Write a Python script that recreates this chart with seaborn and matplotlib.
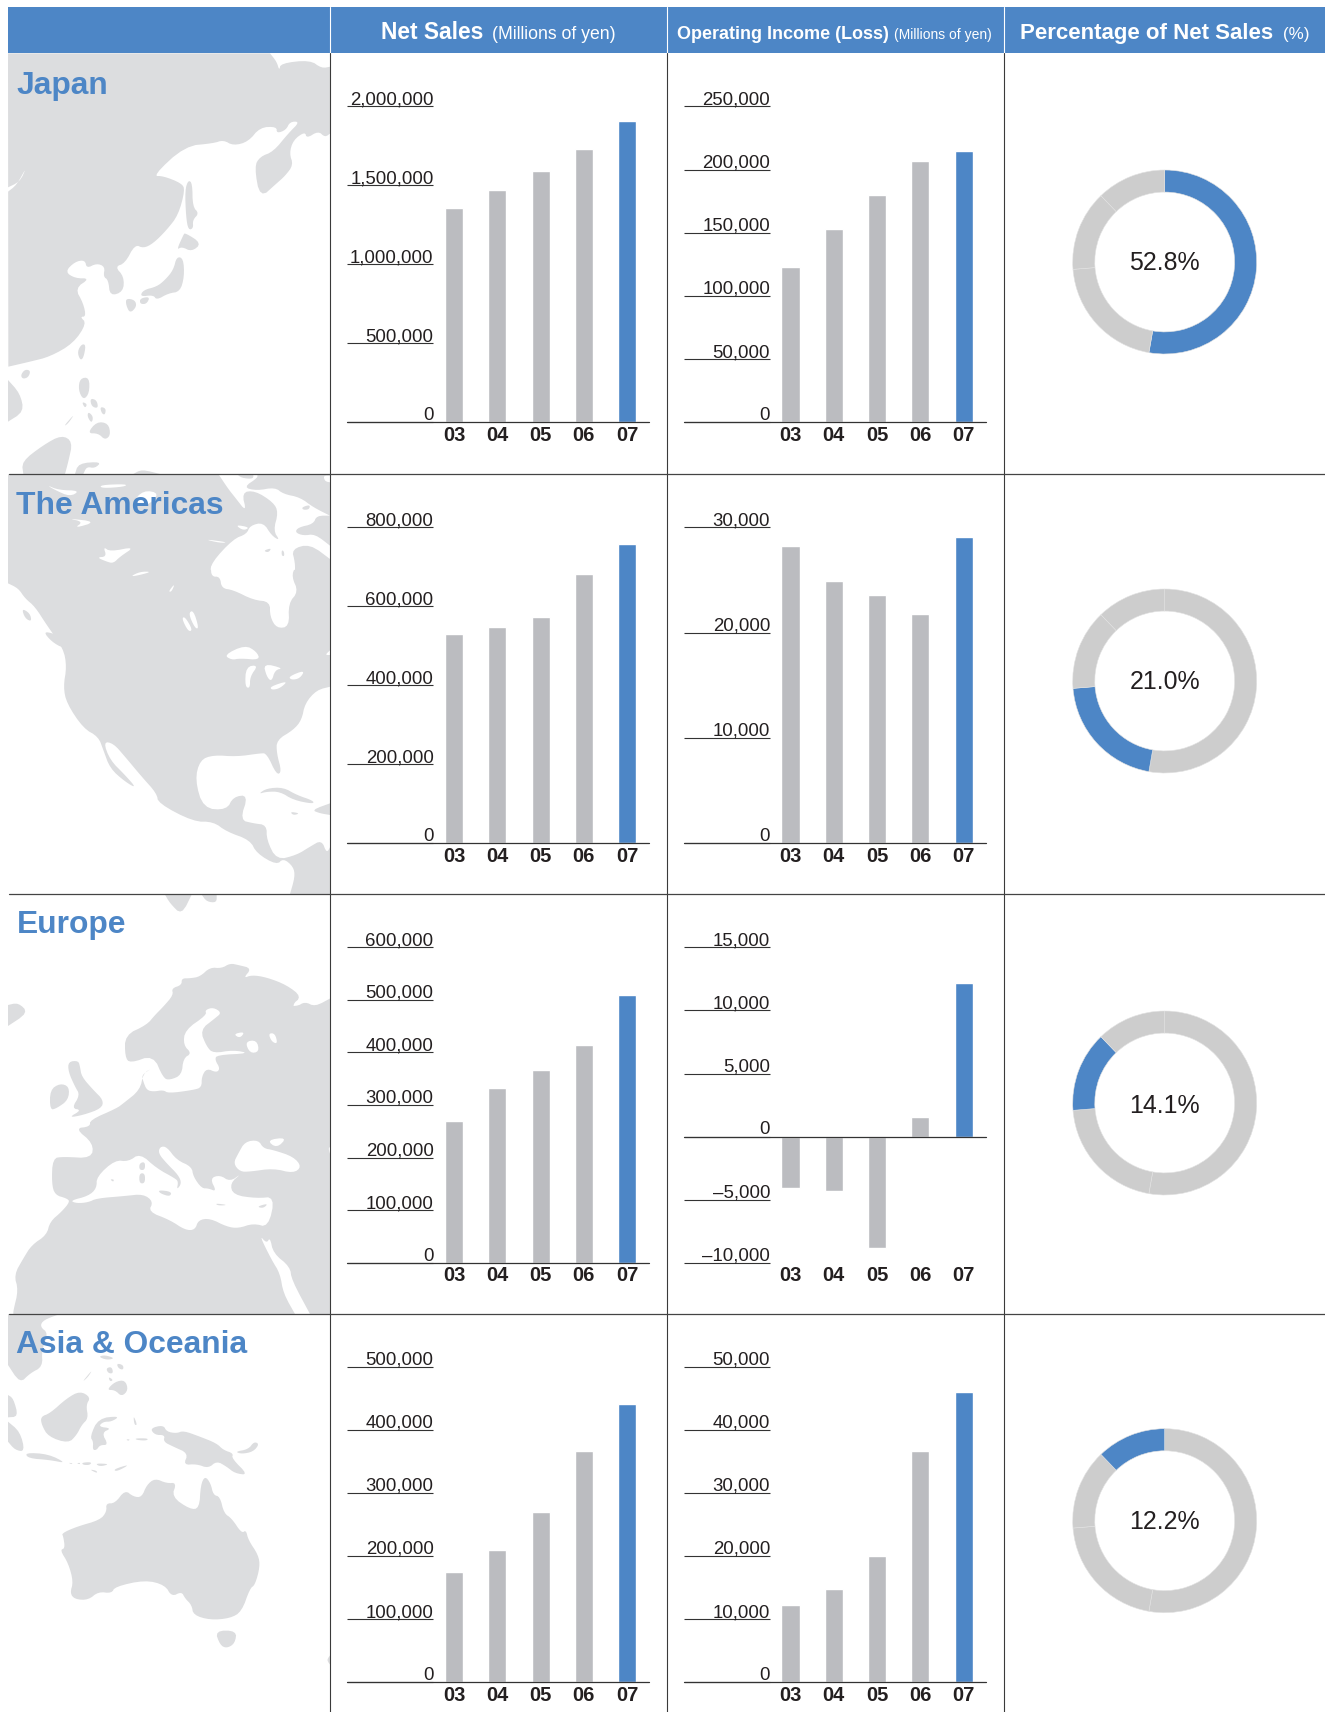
import matplotlib
matplotlib.use("Agg")
import matplotlib.pyplot as plt
from matplotlib.transforms import ScaledTranslation
import seaborn as sns

W, H = 1325, 1712

BLUE = "#4D86C6"
BAR_GREY = "#BBBCC0"
RING_GREY = "#CDCDCD"
MAP_GREY = "#DCDDDF"
INK = "#231F20"

regions = ["Japan", "The Americas", "Europe", "Asia & Oceania"]
years = ["03", "04", "05", "06", "07"]

japan_sales = [1354000, 1468000, 1589000, 1729000, 1907000]
americas_sales = [531000, 549000, 572000, 681000, 757000]
europe_sales = [270000, 333000, 367000, 415000, 509000]
asia_sales = [175000, 210000, 270000, 366000, 440000]

japan_income = [123000, 153000, 180000, 207000, 215000]
americas_income = [28200, 24900, 23600, 21800, 29100]
europe_income = [-4040, -4280, -8800, 1560, 12180]
asia_income = [12300, 14800, 20050, 36700, 45900]

japan_sales_ticks = [0, 500000, 1000000, 1500000, 2000000]
americas_sales_ticks = [0, 200000, 400000, 600000, 800000]
europe_sales_ticks = [0, 100000, 200000, 300000, 400000, 500000, 600000]
asia_sales_ticks = [0, 100000, 200000, 300000, 400000, 500000]

japan_income_ticks = [0, 50000, 100000, 150000, 200000, 250000]
americas_income_ticks = [0, 10000, 20000, 30000]
europe_income_ticks = [-10000, -5000, 0, 5000, 10000, 15000]
asia_income_ticks = [0, 10000, 20000, 30000, 40000, 50000]

shares = [52.8, 21.0, 14.1, 12.2]

# map outlines, traced in zoomed pixels (3x) from the origin of each panel
japan_origin = (0, 50)
japan_land = [
    [(24, 10), (810, 10), (830, 35), (838, 62), (842, 40), (930, 30), (965, 55), (991, 50), (991, 250),
     (975, 262), (955, 243), (920, 265), (915, 245), (880, 270), (868, 310), (880, 345), (855, 378),
     (830, 400), (780, 445), (763, 350), (780, 320), (820, 305), (865, 250), (900, 215), (870, 215),
     (858, 240), (830, 250), (830, 230), (780, 232), (745, 275), (700, 287), (670, 270), (640, 280),
     (555, 288), (458, 378), (490, 378), (545, 400), (555, 420), (535, 495), (500, 540), (460, 580),
     (430, 595), (405, 583), (375, 640), (345, 650), (372, 680), (370, 725), (330, 738), (325, 690),
     (310, 680), (315, 650), (290, 640), (260, 655), (255, 630), (225, 635), (195, 665), (225, 685),
     (270, 685), (225, 715), (250, 760), (258, 800), (240, 800), (260, 820), (220, 880), (150, 920),
     (90, 935), (25, 950)],
    [(565, 390), (577, 400), (578, 470), (597, 490), (578, 510), (580, 535), (565, 540), (558, 500), (555, 420)],
    [(555, 548), (605, 580), (575, 605), (545, 590), (530, 600), (550, 555)],
    [(530, 620), (550, 625), (553, 680), (540, 725), (505, 730), (470, 750), (460, 735), (420, 740),
     (430, 720), (470, 710), (495, 690), (520, 660)],
    [(378, 745), (405, 750), (410, 770), (390, 790), (378, 765)],
    [(420, 745), (450, 740), (440, 762), (420, 762)],
    [(245, 882), (258, 885), (250, 925), (240, 930), (232, 905)],
    [(62, 975), (75, 958), (92, 962), (85, 982), (68, 987)],
    [(24, 990), (60, 1030), (72, 1085), (24, 1115)],
    [(240, 985), (268, 982), (268, 1030), (250, 1050), (235, 1020)],
    [(245, 1055), (262, 1062), (255, 1075)],
    [(270, 1045), (290, 1050), (295, 1075), (275, 1070)],
    [(300, 1070), (318, 1075), (315, 1095), (305, 1090)],
    [(265, 1085), (280, 1100), (275, 1120), (262, 1100)],
    [(262, 1150), (290, 1115), (325, 1120), (332, 1155), (315, 1170), (295, 1150)],
    [(190, 1130), (225, 1090), (205, 1120)],
    [(65, 1235), (130, 1185), (185, 1155), (218, 1175), (205, 1235), (195, 1272), (70, 1272)],
    [(225, 1272), (235, 1240), (305, 1235), (285, 1255), (260, 1250), (250, 1272)],
    [(400, 1272), (425, 1258), (480, 1272)],
]
japan_water = [[(24, 425), (50, 405), (80, 350), (60, 395), (24, 412)]]

americas_origin = (0, 470)
americas_land = [
    [(24, 13), (991, 13), (991, 650), (950, 660), (915, 700), (905, 750), (880, 780), (830, 810), (830, 850),
     (845, 905), (830, 915), (800, 850), (780, 850), (710, 860), (640, 855), (600, 870), (585, 930),
     (610, 1015), (680, 1020), (700, 980), (745, 975), (720, 1050), (760, 1060), (800, 1065), (800, 1110),
     (830, 1170), (890, 1155), (930, 1130), (965, 1110), (980, 1150), (991, 1130), (991, 1272), (870, 1272),
     (885, 1220), (880, 1190), (850, 1165), (830, 1185), (770, 1150), (750, 1110), (680, 1085), (640, 1055),
     (580, 1055), (475, 1000), (470, 970), (425, 920), (375, 860), (340, 820), (310, 815), (330, 870),
     (375, 915), (410, 955), (375, 935), (330, 895), (310, 840), (295, 800), (250, 775), (200, 700),
     (190, 650), (200, 590), (190, 535), (140, 465), (105, 410), (75, 385), (55, 355), (24, 340)],
    [(65, 415), (90, 430), (95, 455), (75, 445)],
    [(130, 485), (160, 490), (205, 510), (218, 530), (190, 535), (155, 515)],
    [(775, 972), (800, 955), (850, 952), (890, 975), (940, 992), (940, 1002), (880, 990), (840, 965), (800, 965)],
    [(935, 1020), (990, 1000), (991, 1035), (960, 1030)],
    [(870, 1025), (900, 1030), (880, 1036)],
]
americas_water = [
    [(632, 290), (650, 270), (880, 270), (885, 290), (875, 320), (895, 365), (865, 400), (868, 470), (830, 475),
     (810, 440), (810, 395), (760, 390), (700, 360), (665, 355), (660, 320), (635, 320)],
    [(290, 262), (320, 260), (310, 230), (330, 245), (405, 230), (360, 260), (340, 280), (320, 275)],
    [(390, 320), (420, 305), (455, 305), (420, 315)],
    [(505, 365), (525, 340), (515, 365)],
    [(545, 445), (555, 440), (578, 480), (565, 485)],
    [(565, 430), (580, 420), (597, 475), (585, 475)],
    [(672, 555), (735, 525), (770, 545), (780, 570), (720, 565), (695, 570)],
    [(738, 590), (775, 585), (750, 620), (750, 655), (735, 650)],
    [(790, 580), (850, 595), (825, 600), (815, 635), (800, 620)],
    [(810, 650), (865, 632), (840, 655), (815, 660)],
    [(865, 620), (915, 600), (900, 625), (875, 630)],
    [(300, 45), (380, 42), (375, 50), (305, 55)],
    [(140, 45), (175, 60), (240, 62), (210, 80), (165, 60)],
    [(200, 145), (290, 155), (222, 175), (250, 155)],
    [(440, 110), (480, 70), (430, 60), (395, 100)],
    [(975, 555), (991, 540), (991, 555)],
]
arctic_origin = (200, 474)
arctic_water = [
    [(55, 0), (170, 0), (175, 10), (130, 40), (170, 50), (225, 40), (250, 60), (300, 70), (340, 100), (390, 125),
     (350, 125), (340, 150), (295, 160), (285, 175), (310, 185), (345, 180), (390, 215), (390, 255),
     (330, 210), (275, 225), (285, 265), (285, 300), (30, 300), (35, 265), (100, 195), (140, 180),
     (150, 155), (190, 145), (215, 185), (240, 200), (220, 170), (235, 115), (220, 85), (165, 50),
     (125, 55), (140, 115), (105, 70), (85, 45)],
    [(105, 152), (150, 160), (130, 170)],
    [(10, 195), (85, 205), (60, 207)],
    [(370, 5), (390, 5), (390, 25), (375, 22)],
]
arctic_islands = [
    [(110, 0), (160, 0), (160, 15), (125, 12)],
    [(305, 100), (330, 92), (328, 106), (310, 108)],
    [(190, 230), (215, 222), (205, 236)],
    [(245, 228), (252, 232), (253, 247), (245, 245)],
]

europe_origin = (0, 890)
europe_land = [
    [(991, 325), (945, 350), (915, 335), (890, 350), (830, 345), (775, 325), (815, 350), (815, 375), (860, 395),
     (850, 365), (895, 370), (875, 345), (905, 320), (860, 285), (800, 262), (755, 255), (730, 265),
     (755, 235), (715, 225), (690, 220), (665, 235), (630, 232), (600, 260), (570, 265), (545, 265),
     (545, 285), (515, 295), (520, 315), (490, 350), (465, 375), (440, 405), (375, 435), (375, 500),
     (390, 520), (460, 495), (490, 565), (510, 570), (545, 555), (550, 505), (575, 490), (550, 465),
     (555, 420), (620, 375), (615, 360), (640, 352), (665, 368), (645, 385), (600, 420), (620, 470),
     (640, 490), (700, 480), (750, 490), (650, 495), (645, 510), (660, 535), (650, 548), (620, 535),
     (605, 560), (605, 592), (580, 600), (505, 610), (490, 600), (460, 605), (440, 600), (430, 575),
     (425, 555), (455, 535), (430, 550), (420, 600), (370, 640), (350, 655), (270, 690), (270, 710),
     (225, 715), (280, 760), (275, 805), (190, 800), (158, 805), (155, 880), (165, 915), (200, 925),
     (210, 935), (185, 965), (150, 995), (140, 1035), (95, 1065), (70, 1105), (42, 1155), (55, 1200),
     (40, 1262), (40, 1272), (991, 1272)],
    [(205, 515), (235, 512), (240, 530), (245, 560), (280, 600), (310, 630), (305, 655), (250, 675), (205, 683),
     (245, 660), (215, 655), (240, 615), (225, 590), (205, 545)],
    [(150, 600), (180, 580), (208, 590), (205, 630), (170, 655), (150, 660)],
    [(24, 345), (55, 338), (85, 368), (24, 408)],
    [(495, 14), (575, 14), (545, 75), (510, 40)],
    [(605, 14), (650, 14), (650, 38), (620, 35)],
]
europe_water = [
    [(210, 932), (265, 918), (290, 895), (290, 860), (345, 810), (385, 815), (420, 790), (470, 835), (525, 865),
     (535, 875), (530, 900), (545, 880), (535, 855), (500, 820), (475, 790), (480, 770), (500, 770),
     (530, 810), (575, 830), (580, 860), (605, 895), (625, 895), (650, 905), (630, 865), (660, 855),
     (690, 875), (725, 850), (690, 880), (700, 915), (770, 925), (825, 920), (805, 1012), (760, 1000),
     (715, 1015), (680, 1010), (630, 985), (595, 990), (585, 1020), (555, 1020), (510, 990), (445, 965),
     (460, 935), (430, 912), (375, 918), (290, 925), (265, 937), (230, 940)],
    [(735, 755), (775, 750), (790, 775), (820, 780), (880, 800), (905, 830), (880, 850), (820, 835), (750, 845),
     (720, 845), (700, 820), (715, 790)],
    [(800, 750), (862, 742), (830, 775)],
    [(778, 1035), (800, 1060), (810, 1042), (820, 1090), (870, 1130), (875, 1170), (930, 1272), (885, 1272),
     (850, 1210), (840, 1150), (815, 1110)],
    [(700, 432), (735, 425), (720, 445)],
    [(805, 430), (825, 430), (833, 462), (815, 455)],
    [(735, 455), (770, 450), (778, 485), (750, 490)],
    [(985, 775), (991, 770), (991, 795)],
]
europe_islands = [
    [(475, 900), (515, 905), (510, 920), (480, 910)],
    [(418, 820), (435, 815), (435, 840), (418, 840)],
    [(418, 850), (435, 850), (435, 880), (418, 880)],
    [(330, 868), (342, 868), (340, 876)],
    [(645, 940), (685, 945), (655, 947)],
    [(770, 950), (805, 940), (790, 955)],
]

asia_origin = (0, 1310)
asia_land = [
    [(24, 12), (180, 12), (130, 30), (120, 50), (145, 70), (125, 120), (128, 170), (90, 190), (60, 220), (24, 165)],
    [(295, 140), (315, 135), (345, 145), (320, 150)],
    [(318, 175), (335, 170), (340, 190), (325, 190)],
    [(350, 160), (370, 165), (370, 180), (355, 175)],
    [(320, 240), (345, 215), (375, 210), (385, 240), (365, 260), (345, 240)],
    [(325, 200), (340, 210), (330, 215)],
    [(245, 218), (278, 178), (265, 200)],
    [(122, 320), (150, 310), (200, 265), (240, 243), (272, 262), (258, 285), (265, 325), (245, 345), (230, 375),
     (205, 400), (145, 380), (125, 345)],
    [(24, 255), (40, 265), (55, 320), (24, 322)],
    [(24, 335), (60, 365), (75, 425), (45, 420), (24, 395)],
    [(75, 428), (145, 432), (200, 460), (150, 450), (85, 445)],
    [(205, 458), (218, 460), (215, 463)],
    [(230, 460), (240, 458), (240, 463)],
    [(245, 458), (275, 456), (270, 465), (250, 465)],
    [(285, 460), (330, 462), (300, 470)],
    [(340, 478), (392, 462), (350, 485)],
    [(268, 478), (290, 482), (292, 490)],
    [(270, 380), (295, 325), (360, 318), (335, 335), (310, 335), (295, 350), (335, 355), (305, 368), (325, 405),
     (300, 405), (290, 420), (278, 420), (280, 395)],
    [(400, 315), (412, 345), (403, 345)],
    [(378, 388), (390, 388), (385, 393)],
    [(405, 385), (445, 385), (440, 392), (410, 390)],
    [(450, 355), (490, 345), (500, 365), (530, 370), (550, 362), (600, 380), (650, 400), (670, 420), (700, 430),
     (695, 445), (745, 495), (705, 490), (680, 470), (650, 453), (625, 475), (590, 462), (550, 465),
     (565, 430), (520, 410), (490, 395), (495, 375), (465, 375)],
    [(705, 425), (745, 418), (762, 395), (778, 402), (760, 425), (725, 432)],
    [(185, 670), (230, 650), (300, 630), (320, 605), (318, 580), (345, 580), (375, 540), (400, 560), (425, 562),
     (440, 525), (465, 505), (500, 520), (530, 518), (515, 560), (570, 598), (598, 595), (602, 525),
     (615, 498), (632, 520), (640, 555), (660, 560), (672, 610), (695, 625), (725, 670), (738, 660),
     (745, 690), (775, 735), (780, 770), (765, 825), (750, 835), (725, 905), (690, 925), (630, 930),
     (580, 915), (575, 885), (555, 865), (545, 845), (515, 860), (495, 825), (435, 810), (345, 830),
     (335, 850), (295, 845), (265, 870), (225, 868), (210, 850), (220, 815), (205, 760), (180, 720),
     (195, 715), (190, 680)],
    [(645, 962), (710, 962), (705, 1000), (680, 1015), (660, 1005)],
    [(980, 1050), (991, 1035), (991, 1065)],
]

sales_by_region = [japan_sales, americas_sales, europe_sales, asia_sales]
income_by_region = [japan_income, americas_income, europe_income, asia_income]
sales_ticks_by_region = [japan_sales_ticks, americas_sales_ticks, europe_sales_ticks, asia_sales_ticks]
income_ticks_by_region = [japan_income_ticks, americas_income_ticks, europe_income_ticks, asia_income_ticks]

top_y = [106.4, 527.4, 947.4, 1366.6]
base_y = [422.3, 843.3, 1262.7, 1682.3]
title_y = [94.3, 514, 933.3, 1353.3]
donut_y = [262, 681, 1103, 1520.7]
label_drop = [1, 1, 3, 1]

sns.set_theme(style="white")
plt.rcParams["font.family"] = ["Liberation Sans", "DejaVu Sans"]
plt.rcParams["text.color"] = INK

fig = plt.figure(figsize=(W / 100, H / 100), dpi=100, facecolor="white")


def px_axes(x0, y0, x1, y1):
    return fig.add_axes([x0 / W, 1 - y1 / H, (x1 - x0) / W, (y1 - y0) / H])


def on_panel_edge(p):
    if p[0] <= 8.5 or p[0] >= 329.5:
        return True
    return any(abs(p[1] - edge) < 1.5 for edge in [53, 474, 894, 1314])


def smooth(points, rounds=2):
    # corner cutting so the traced coasts are not angular; points on the panel edge stay put
    for _ in range(rounds):
        out = []
        n = len(points)
        for k, p in enumerate(points):
            if on_panel_edge(p):
                out.append(p)
                continue
            prev, nxt = points[k - 1], points[(k + 1) % n]
            out.append((0.75 * p[0] + 0.25 * prev[0], 0.75 * p[1] + 0.25 * prev[1]))
            out.append((0.75 * p[0] + 0.25 * nxt[0], 0.75 * p[1] + 0.25 * nxt[1]))
        points = out
    return points


def draw_polys(ax, origin, polys, color):
    for poly in polys:
        pts = smooth([(origin[0] + p[0] / 3, origin[1] + p[1] / 3) for p in poly])
        ax.fill([p[0] for p in pts], [p[1] for p in pts], color=color, lw=0)


def bar_panel(x0, row, values, ticks):
    # first bar sits 107 px in from the axis start, the next ones 43.3 px apart
    ax = px_axes(x0, top_y[row], x0 + 302, base_y[row])
    sns.barplot(x=years, y=values, hue=years, palette=[BAR_GREY] * 4 + [BLUE], order=years,
                width=0.42, saturation=1, legend=False, ax=ax)
    ax.set_xlim(-107 / 43.3, 195 / 43.3)
    ax.set_ylim(ticks[0], ticks[-1])
    ax.set_ylabel("")
    ax.set_yticks(ticks)
    ax.set_yticklabels([f"{t:,}".replace("-", "\u2013") for t in ticks], fontsize=13.4, color=INK, va="baseline")
    ax.tick_params(axis="y", direction="in", length=61.6, width=0.8, color="#333333", pad=-62.3, left=True)
    ax.tick_params(axis="x", length=0, pad=2.5)
    for lab in ax.get_xticklabels():
        lab.set_fontsize(14.5)
        lab.set_fontweight("bold")
        lab.set_color(INK)
    up = ScaledTranslation(0, 1.5 / 72, fig.dpi_scale_trans)
    for tick in ax.yaxis.get_major_ticks():
        tick.label1.set_transform(tick.label1.get_transform() + up)
    ax.axhline(0, color="#333333", lw=0.9, zorder=5, clip_on=False)
    sns.despine(ax=ax, left=True, bottom=True)
    ax.patch.set_alpha(0)
    return ax


# background: header band, maps, grid lines and titles in pixel coordinates
bg = fig.add_axes([0, 0, 1, 1])
bg.set_xlim(0, W)
bg.set_ylim(H, 0)
bg.axis("off")

draw_polys(bg, japan_origin, japan_land, MAP_GREY)
draw_polys(bg, japan_origin, japan_water, "white")
draw_polys(bg, americas_origin, americas_land, MAP_GREY)
draw_polys(bg, americas_origin, americas_water, "white")
draw_polys(bg, arctic_origin, arctic_water, "white")
draw_polys(bg, arctic_origin, arctic_islands, MAP_GREY)
draw_polys(bg, europe_origin, europe_land, MAP_GREY)
draw_polys(bg, europe_origin, europe_water, "white")
draw_polys(bg, europe_origin, europe_islands, MAP_GREY)
draw_polys(bg, asia_origin, asia_land, MAP_GREY)

bg.fill([8, W, W, 8], [7, 7, 53, 53], color=BLUE, lw=0)
for x in [330, 666.7, 1003.5]:
    bg.plot([x, x], [7, 53], color="white", lw=0.8)
    bg.plot([x, x], [53, H], color="#3A3A3A", lw=0.8)
for y in [474, 894, 1313.7]:
    bg.plot([9, W], [y, y], color="#444444", lw=0.9)

bg.text(381.2, 38.5, "Net Sales", color="white", fontsize=16.4, fontweight="bold", va="baseline")
bg.text(491.5, 38.5, "(Millions of yen)", color="white", fontsize=12.7, va="baseline")
bg.text(677, 38.5, "Operating Income (Loss)", color="white", fontsize=13.0, fontweight="bold", va="baseline")
bg.text(894.5, 38.5, "(Millions of yen)", color="white", fontsize=10.0, va="baseline")
bg.text(1020.5, 38.5, "Percentage of Net Sales", color="white", fontsize=16, fontweight="bold", va="baseline")
bg.text(1282.6, 38.5, "(%)", color="white", fontsize=12.2, va="baseline")

for i, region in enumerate(regions):
    bg.text(16.5, title_y[i], region, color=BLUE, fontsize=22.9, fontweight="bold", va="baseline")

    bar_panel(347, i, sales_by_region[i], sales_ticks_by_region[i])
    bar_panel(683.5, i, income_by_region[i], income_ticks_by_region[i])

    # the same four slices in each ring, only the region's own slice is blue
    r = 92
    ring = px_axes(1164.7 - r, donut_y[i] - r, 1164.7 + r, donut_y[i] + r)
    colors = [BLUE if j == i else RING_GREY for j in range(len(shares))]
    ring.pie(shares, colors=colors, startangle=90, counterclock=False, radius=1,
             wedgeprops=dict(width=0.24, edgecolor="#E2E2E2", linewidth=0.4))
    ring.set_xlim(-1, 1)
    ring.set_ylim(-1, 1)
    ring.text(0, -label_drop[i] / r, f"{shares[i]:.1f}%", ha="center", va="center", fontsize=17.9, color=INK)

fig.savefig("out.png", dpi=100, facecolor="white")
